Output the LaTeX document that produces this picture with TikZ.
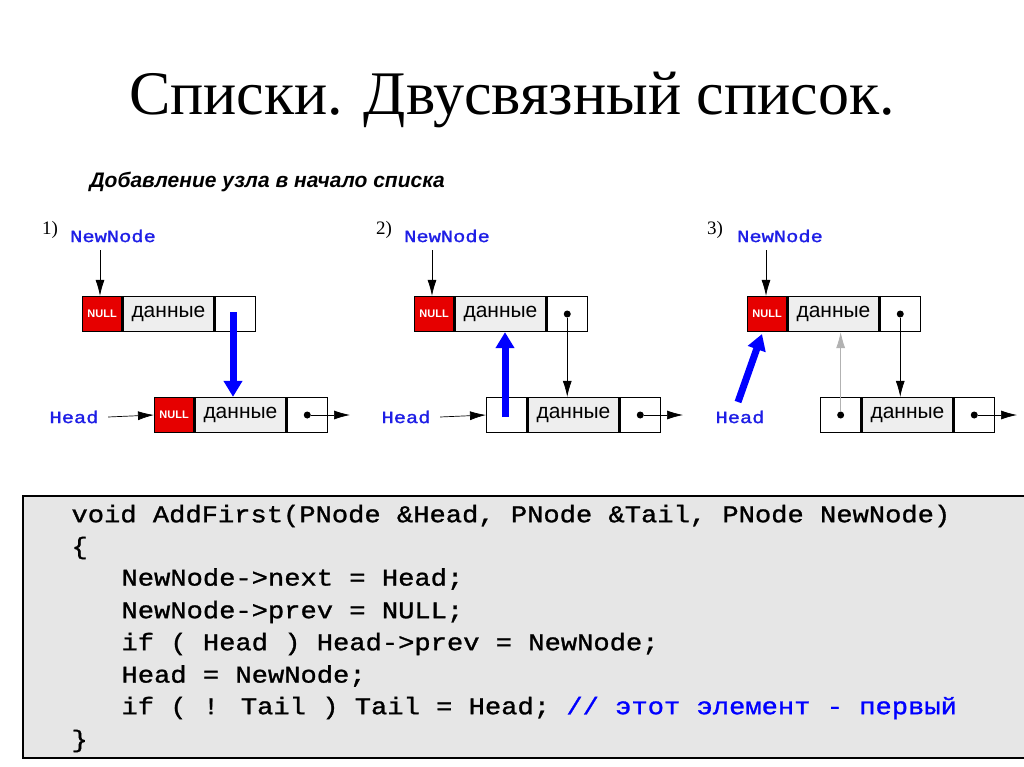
\documentclass[tikz,border=0pt]{standalone}
\usepackage{fontspec}
\setmainfont{Liberation Serif}
\setsansfont{Liberation Sans}
\newfontfamily\codefont[FakeStretch=1.13,FakeBold=1.2]{Liberation Mono}
\newfontfamily\lblfont[FakeStretch=1.2,FakeBold=1.5]{Liberation Mono}
\usetikzlibrary{arrows.meta}
\definecolor{codebg}{RGB}{230,230,230}
\definecolor{nullred}{RGB}{230,0,0}
\definecolor{datagray}{RGB}{238,238,238}
\definecolor{lblblue}{RGB}{30,30,230}
\begin{document}
\begin{tikzpicture}[x=1pt,y=-1pt,
  cell/.style={draw=black,line width=1.3pt,minimum height=35pt,inner sep=0pt,anchor=west},
  nullc/.style={cell,fill=nullred,minimum width=39pt,font=\sffamily\bfseries\fontsize{11}{12}\selectfont,text=white},
  datac/.style={cell,fill=datagray,minimum width=91pt,font=\sffamily\fontsize{21}{22}\selectfont},
  ptrc/.style={cell,fill=white,minimum width=40pt},
  lbl/.style={font=\lblfont\fontsize{17}{18}\selectfont,text=lblblue},
  num/.style={font=\fontsize{19}{20}\selectfont},
  thin/.style={-{Latex[length=16pt,width=9pt]},line width=0.7pt},
  big/.style={-{Triangle[length=16pt,width=18pt]},line width=7pt,draw=blue},
  dot/.style={circle,fill=black,inner sep=0pt,minimum size=7pt}]
\useasboundingbox (0,0) rectangle (1024,767);
\fill[white] (0,0) rectangle (1024,767);
\node[font=\fontsize{62}{70}\selectfont] (title) at (512,100) {Списки. Двусвязный список.};
\node[anchor=west,font=\sffamily\bfseries\itshape\fontsize{21}{24}\selectfont] (sub) at (86,182) {Добавление узла в начало списка};
% code
\node[draw=black,line width=2pt,fill=codebg,anchor=north west,minimum width=1010pt,minimum height=262pt] (code) at (22,495) {};
\begin{scope}[every node/.style={anchor=west,font=\codefont\fontsize{24}{26}\selectfont}]
\node (c1) at (68,516) {void AddFirst(PNode \&Head, PNode \&Tail, PNode NewNode)};
\node (c2) at (68,548) {\{};
\node (c3) at (118,579) {NewNode->next = Head;};
\node (c4) at (118,612) {NewNode->prev = NULL;};
\node (c5) at (118,644) {if ( Head ) Head->prev = NewNode;};
\node (c6) at (118,676) {Head = NewNode;};
\node (c7) at (118,708) {if ( ! Tail ) Tail = Head; \textcolor{blue}{// этот элемент - первый}};
\node (c8) at (68,741) {\}};
\end{scope}
% ---------- stage 1
\node[num] (n1) at (50,230) {1)};
\node[lbl] (nn1) at (113,236) {NewNode};
\node[nullc] (a1) at (82,314) {NULL};
\node[datac] (a2) at (a1.east) {данные};
\node[ptrc] (a3) at (a2.east) {};
\node[nullc] (b1) at (154,415) {NULL};
\node[datac] (b2) at (b1.east) {данные};
\node[ptrc] (b3) at (b2.east) {};
\node[lbl] (h1) at (74,417) {Head};
\node[dot] (bd1) at (b3.center) {};
\coordinate (be1) at (350,415);
\draw[thin] (100,250) -- (a1.north -| 100,0);
\draw[thin] (h1.east) ++(6,0) -- (b1.west);
\draw[thin] (bd1) -- (be1);
\draw[big] (233,312) -- (b2.north -| 233,0);
% ---------- stage 2
\node[num] (n2) at (384,230) {2)};
\node[lbl] (nn2) at (447,236) {NewNode};
\node[nullc] (d1) at (414,314) {NULL};
\node[datac] (d2) at (d1.east) {данные};
\node[ptrc] (d3) at (d2.east) {};
\node[ptrc] (e1) at (486,415) {};
\node[datac] (e2) at (e1.east) {данные};
\node[ptrc] (e3) at (e2.east) {};
\node[lbl] (h2) at (406,417) {Head};
\node[dot] (dd2) at (d3.center) {};
\node[dot] (ed2) at (e3.center) {};
\coordinate (ee2) at (683,415);
\draw[thin] (432,250) -- (d1.north -| 432,0);
\draw[thin] (h2.east) ++(6,0) -- (e1.west);
\draw[thin] (ed2) -- (ee2);
\draw[thin] (dd2) -- (e2.north -| dd2);
\draw[big] (505,417) -- (d2.south -| 505,0);
% ---------- stage 3
\node[num] (n3) at (715,230) {3)};
\node[lbl] (nn3) at (780,236) {NewNode};
\node[nullc] (f1) at (747,314) {NULL};
\node[datac] (f2) at (f1.east) {данные};
\node[ptrc] (f3) at (f2.east) {};
\node[ptrc] (g1) at (820,415) {};
\node[datac] (g2) at (g1.east) {данные};
\node[ptrc] (g3) at (g2.east) {};
\node[lbl] (h3) at (740,417) {Head};
\node[dot] (fd3) at (f3.center) {};
\node[dot] (gd1) at (g1.center) {};
\node[dot] (gd3) at (g3.center) {};
\coordinate (ge3) at (1017,415);
\draw[thin] (766,250) -- (f1.north -| 766,0);
\draw[thin] (gd3) -- (ge3);
\draw[thin] (fd3) -- (g2.north -| fd3);
\draw[thin,draw=gray!60,fill=black] (gd1) -- (f2.south -| gd1);
\draw[big] (738,402) -- (762,334);
\end{tikzpicture}
\end{document}
